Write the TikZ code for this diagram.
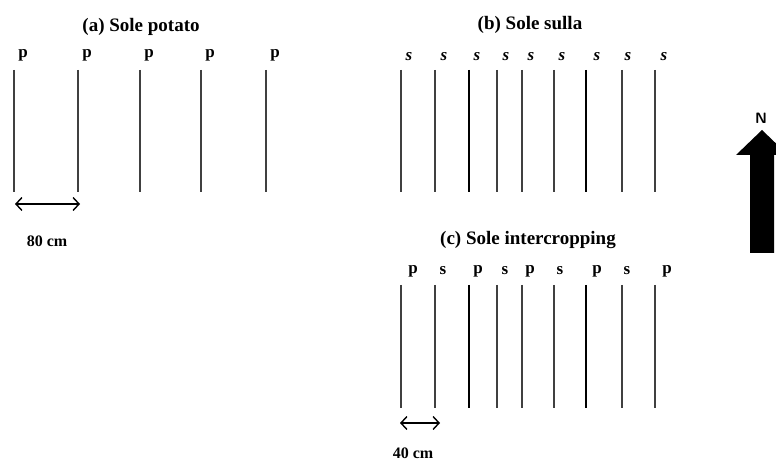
\documentclass[tikz,border=0pt]{standalone}
\usepackage{fontspec}
\setmainfont{Liberation Serif}
\usetikzlibrary{arrows.meta}
\begin{document}
\begin{tikzpicture}[x=1pt,y=-1pt,
  title/.style={font=\fontsize{19}{19}\selectfont\bfseries, inner sep=0pt},
  lab/.style={font=\fontsize{17}{17}\selectfont\bfseries, inner sep=0pt},
  labi/.style={font=\fontsize{17}{17}\selectfont\bfseries\itshape, inner sep=0pt},
  row/.style={draw=black!75, line width=1.1pt},
  rowthick/.style={draw=black, line width=2pt},
  dim/.style={line width=1.4pt, {Straight Barb[length=6pt,width=13pt]}-{Straight Barb[length=6pt,width=13pt]}},
  dimlab/.style={font=\fontsize{16}{16}\selectfont\bfseries, inner sep=0pt}]
\useasboundingbox (0,0) rectangle (776,462);
\clip (0,0) rectangle (776,462);
% (a) Sole potato
\node[title] (ta) at (141,27) {(a) Sole potato};
\foreach \x [count=\i] in {14,78,140,201,266} {
  \coordinate (a\i t) at (\x,70);
  \coordinate (a\i b) at (\x,192);
  \draw[row] (a\i t) -- (a\i b);
  \node[lab] (pa\i) at (\x+9,55) {p};
}
\coordinate (da1) at (15,204);
\coordinate (da2) at (80,204);
\draw[dim] (da1) -- (da2);
\node[dimlab] (la) at (47,241) {80 cm};
% (b) Sole sulla
\node[title] (tb) at (530,25) {(b) Sole sulla};
\foreach \x/\lx/\st [count=\i] in {401/409/row,435/444/row,469/477/rowthick,497/506/row,522/531/row,554/562/row,586/597/rowthick,622/628/row,655/664/row} {
  \coordinate (b\i t) at (\x,70);
  \coordinate (b\i b) at (\x,192);
  \draw[\st] (b\i t) -- (b\i b);
  \node[labi] (sb\i) at (\lx,57) {s};
}
% (c) Sole intercropping
\node[title] (tc) at (528,240) {(c) Sole intercropping};
\foreach \x/\lx/\t/\st [count=\i] in {401/413/p/row,435/443/s/row,469/478/p/rowthick,497/505/s/row,522/530/p/row,554/560/s/row,586/597/p/rowthick,622/627/s/row,655/667/p/row} {
  \coordinate (c\i t) at (\x,285);
  \coordinate (c\i b) at (\x,408);
  \draw[\st] (c\i t) -- (c\i b);
  \node[lab] (lc\i) at (\lx,271) {\t};
}
\coordinate (dc1) at (400,423);
\coordinate (dc2) at (440,423);
\draw[dim] (dc1) -- (dc2);
\node[dimlab] (lcd) at (413,453) {40 cm};
% North arrow
\node[font=\sffamily\bfseries\fontsize{15}{15}\selectfont, inner sep=0pt] (north) at (761,118) {N};
\fill[black] (750,253) -- (750,155) -- (736,155) -- (762,130) -- (788,155) -- (774,155) -- (774,253) -- cycle;
\end{tikzpicture}
\end{document}
